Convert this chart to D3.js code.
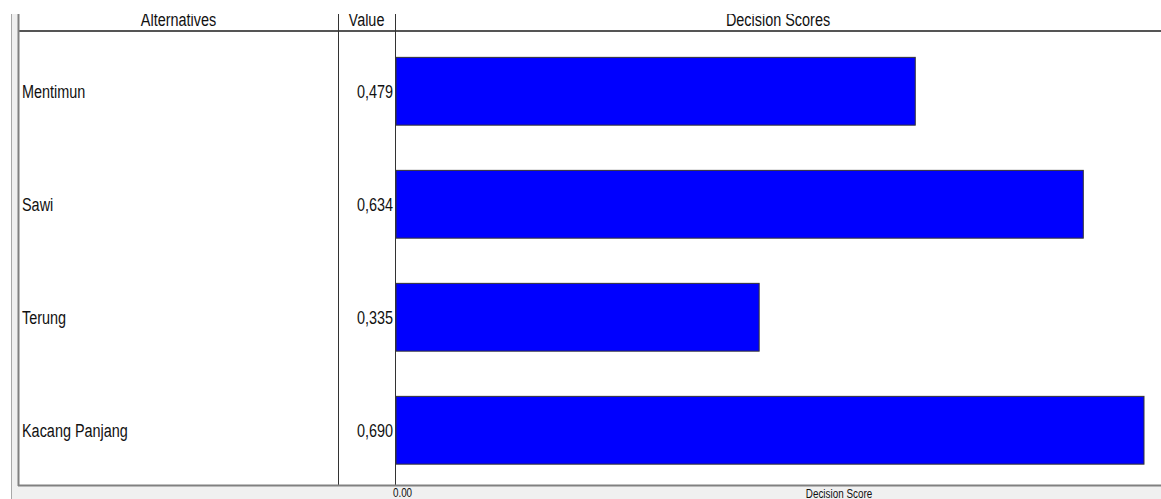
<!DOCTYPE html>
<html>
<head>
<meta charset="utf-8">
<script src="https://cdn.jsdelivr.net/npm/d3@7"></script>
<style>
  html, body { margin: 0; padding: 0; background: #fff; }
  svg { display: block; }
  text { font-family: "Liberation Sans", Arial, sans-serif; fill: #111; }
</style>
</head>
<body>
<script>
const alternatives = ["Mentimun", "Sawi", "Terung", "Kacang Panjang"];
const scores = [0.479, 0.634, 0.335, 0.690];
const headers = ["Alternatives", "Value", "Decision Scores"];
const axisTicks = [0];
const axisTitle = "Decision Score";

const width = 1161, height = 499;
const panelLeft = 19, panelTop = 14, panelBottom = 485;
const headerBottom = 31;
const colSep = 338, plotLeft = 395, plotRight = 1144;
const squeeze = 0.76;
const fontSize = 19;

const svg = d3.select("body").append("svg")
  .attr("width", width)
  .attr("height", height);

// grey frame pieces
svg.append("rect").attr("x", 11).attr("y", panelTop).attr("width", 8).attr("height", height - panelTop)
  .attr("fill", "#f0f0f0");
svg.append("rect").attr("x", panelLeft).attr("y", panelBottom).attr("width", width - panelLeft).attr("height", height - panelBottom)
  .attr("fill", "#f0f0f0");
svg.append("line").attr("x1", 11.5).attr("x2", 11.5).attr("y1", panelTop).attr("y2", height)
  .attr("stroke", "#a8a8a8");

svg.append("clipPath").attr("id", "panel")
  .append("rect").attr("x", panelLeft).attr("y", panelTop)
  .attr("width", width - panelLeft).attr("height", panelBottom - panelTop);

const panel = svg.append("g").attr("clip-path", "url(#panel)");

const x = d3.scaleLinear().domain([0, d3.max(scores)]).range([plotLeft + 1, plotRight]);
const y = d3.scaleBand().domain(alternatives).range([headerBottom + 1, panelBottom - 1]);
const barTop = d => y(d) + y.bandwidth() * 0.22 + 0.5;
const barMid = d => y(d) + y.bandwidth() * 0.22 + 0.6 * y.bandwidth() / 2;

// header texts
const headerX = [(panelLeft + colSep) / 2, (colSep + plotLeft) / 2, (plotLeft + width) / 2];
panel.selectAll(".hdr")
  .data(headers)
  .enter()
  .append("text")
  .attr("class", "hdr")
  .attr("transform", (d, i) => `translate(${headerX[i]},26) scale(${squeeze},1)`)
  .attr("text-anchor", "middle")
  .attr("font-size", fontSize)
  .text(d => d);

// bars
panel.selectAll(".bar")
  .data(alternatives)
  .enter()
  .append("rect")
  .attr("class", "bar")
  .attr("x", x(0))
  .attr("y", barTop)
  .attr("width", (d, i) => x(scores[i]) - x(0))
  .attr("height", y.bandwidth() * 0.6)
  .attr("fill", "#0000ff")
  .attr("stroke", "#333")
  .attr("stroke-width", 1);

// alternative names
panel.selectAll(".alt")
  .data(alternatives)
  .enter()
  .append("text")
  .attr("class", "alt")
  .attr("transform", d => `translate(22,${barMid(d) + 7}) scale(${squeeze},1)`)
  .attr("font-size", fontSize)
  .text(d => d);

// value column
const fmt = v => d3.format(".3f")(v).replace(".", ",");
panel.selectAll(".val")
  .data(alternatives)
  .enter()
  .append("text")
  .attr("class", "val")
  .attr("transform", d => `translate(393,${barMid(d) + 7}) scale(${squeeze},1)`)
  .attr("text-anchor", "end")
  .attr("font-size", fontSize)
  .text((d, i) => fmt(scores[i]));

// grid lines
svg.append("line").attr("x1", panelLeft).attr("x2", width).attr("y1", headerBottom).attr("y2", headerBottom)
  .attr("stroke", "#555").attr("stroke-width", 2);
svg.append("line").attr("x1", colSep + 0.5).attr("x2", colSep + 0.5).attr("y1", panelTop).attr("y2", panelBottom)
  .attr("stroke", "#333");
svg.append("line").attr("x1", plotLeft + 0.5).attr("x2", plotLeft + 0.5).attr("y1", panelTop).attr("y2", panelBottom)
  .attr("stroke", "#333");
svg.append("line").attr("x1", panelLeft - 0.5).attr("x2", panelLeft - 0.5).attr("y1", panelTop).attr("y2", panelBottom + 1)
  .attr("stroke", "#808080").attr("stroke-width", 2);
svg.append("line").attr("x1", panelLeft - 1).attr("x2", width).attr("y1", panelBottom + 0.5).attr("y2", panelBottom + 0.5)
  .attr("stroke", "#808080").attr("stroke-width", 2);

// bottom axis
const axis = svg.append("g")
  .attr("transform", `translate(0,${panelBottom + 1})`)
  .call(d3.axisBottom(x).tickValues(axisTicks).tickSize(0).tickFormat(d3.format(".2f")));
axis.select(".domain").remove();
axis.selectAll("text")
  .attr("font-size", 13)
  .attr("fill", "#111")
  .attr("transform", `translate(6,-1) scale(${squeeze},1)`);

svg.append("text")
  .attr("transform", `translate(839,498) scale(${squeeze},1)`)
  .attr("text-anchor", "middle")
  .attr("font-size", 13)
  .text(axisTitle);
</script>
</body>
</html>
